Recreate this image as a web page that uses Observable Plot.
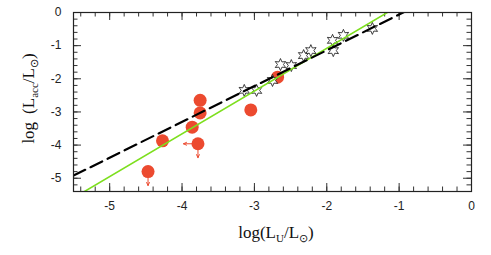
<!DOCTYPE html>
<html><head><meta charset="utf-8">
<script src="https://cdn.jsdelivr.net/npm/d3@7"></script>
<script src="https://cdn.jsdelivr.net/npm/@observablehq/plot@0.6"></script>
<style>body{margin:0;background:#fff}</style>
</head><body><div id="chart"></div>
<script>
// Red filled circles: log L_U, log L_acc, upper limit flags
const redX = [-4.47, -4.27, -3.86, -3.78, -3.75, -3.75, -3.05, -2.68];
const redY = [-4.80, -3.87, -3.46, -3.96, -2.65, -3.03, -2.94, -1.95];
const redDownLimit = [true, false, false, true, false, false, false, false];
const redLeftLimit = [false, false, false, true, false, false, false, false];

// Open stars
const starX = [-3.14, -2.97, -2.75, -2.64, -2.49, -2.32, -2.22, -1.92, -1.91, -1.77, -1.37];
const starY = [-2.35, -2.35, -2.05, -1.57, -1.60, -1.30, -1.15, -0.84, -1.15, -0.69, -0.48];

// Fits
const dashedFit = {slope: 1.08, intercept: 1.02, xFrom: -5.5, xTo: -0.9};
const greenFit = {slope: 1.29, intercept: 1.50, xFrom: -5.5, xTo: 0};

// Axes
const xDomain = [-5.5, 0];
const yDomain = [-5.4, 0];
const xTickLabels = [-5, -4, -3, -2, -1, 0];
const yTickLabels = [0, -1, -2, -3, -4, -5];
const minorStep = 0.2;

const W = 491, H = 255, mL = 73, mR = 20, mT = 12, mB = 64;
const fw = W - mL - mR, fh = H - mT - mB;

const red = "#ec4a2f", green = "#7ddf1e";

const red_ = redX.map((x, i) => ({x, y: redY[i], down: redDownLimit[i], left: redLeftLimit[i]}));
const stars = starX.map((x, i) => ({x, y: starY[i]}));
const downArrows = red_.filter(d => d.down).map(d => ({x1: d.x, y1: d.y, x2: d.x, y2: d.y - 0.42}));
const leftArrows = red_.filter(d => d.left).map(d => ({x1: d.x, y1: d.y, x2: d.x - 0.2, y2: d.y}));
const arrows = downArrows.concat(leftArrows);

const fitPts = f => [f.xFrom, f.xTo].map(x => ({x, y: f.slope * x + f.intercept}));

const xMinor = d3.range(Math.round(xDomain[0] / minorStep), Math.round(xDomain[1] / minorStep) + 1).map(k => +(k * minorStep).toFixed(2));
const yMinor = d3.range(Math.round(yDomain[0] / minorStep), Math.round(yDomain[1] / minorStep) + 1).map(k => +(k * minorStep).toFixed(2));

const star6 = {
  draw(ctx, size) {
    const R = Math.sqrt(size / Math.PI), r = R * 0.5, n = 6;
    for (let i = 0; i < 2 * n; i++) {
      const a = Math.PI * i / n - Math.PI / 2;
      const rr = i % 2 === 0 ? R : r;
      const px = rr * Math.cos(a), py = rr * Math.sin(a);
      if (i === 0) ctx.moveTo(px, py); else ctx.lineTo(px, py);
    }
    ctx.closePath();
  }
};

const tickStroke = "#333";
const majL = 8, minL = 4.5;

const chart = Plot.plot({
  width: W, height: H,
  marginLeft: mL, marginRight: mR, marginTop: mT, marginBottom: mB,
  x: {domain: xDomain, axis: null},
  y: {domain: yDomain, axis: null},
  style: {background: "#fff"},
  marks: [
    // minor ticks (inside, all four sides)
    Plot.tickX(xMinor, {x: d => d, insetTop: fh - minL, stroke: tickStroke, strokeWidth: 1}),
    Plot.tickX(xMinor, {x: d => d, insetBottom: fh - minL, stroke: tickStroke, strokeWidth: 1}),
    Plot.tickY(yMinor, {y: d => d, insetRight: fw - minL, stroke: tickStroke, strokeWidth: 1}),
    Plot.tickY(yMinor, {y: d => d, insetLeft: fw - minL, stroke: tickStroke, strokeWidth: 1}),
    // major ticks
    Plot.tickX(xTickLabels, {x: d => d, insetTop: fh - majL, stroke: tickStroke, strokeWidth: 1}),
    Plot.tickX(xTickLabels, {x: d => d, insetBottom: fh - majL, stroke: tickStroke, strokeWidth: 1}),
    Plot.tickY(yTickLabels, {y: d => d, insetRight: fw - majL, stroke: tickStroke, strokeWidth: 1}),
    Plot.tickY(yTickLabels, {y: d => d, insetLeft: fw - majL, stroke: tickStroke, strokeWidth: 1}),
    // tick labels
    Plot.axisX({ticks: xTickLabels, tickSize: 0, tickPadding: 10, tickFormat: d => String(d),
      fontSize: 12, fontFamily: "Liberation Sans, Arial, sans-serif", fill: "#222", label: null}),
    Plot.axisY({ticks: yTickLabels, tickSize: 0, tickPadding: 12, tickFormat: d => String(d),
      fontSize: 12, fontFamily: "Liberation Sans, Arial, sans-serif", fill: "#222", label: null}),
    // limit arrows
    Plot.arrow(arrows, {x1: "x1", y1: "y1", x2: "x2", y2: "y2", stroke: red, strokeWidth: 1, headLength: 5, headAngle: 50}),
    // data
    Plot.dot(red_, {x: "x", y: "y", r: 6.5, fill: red, stroke: "none"}),
    Plot.dot(stars, {x: "x", y: "y", r: 6, symbol: star6, fill: "#fff", stroke: "#111", strokeWidth: 0.8}),
    // fits
    Plot.line(fitPts(greenFit), {x: "x", y: "y", stroke: green, strokeWidth: 1.6, clip: true}),
    Plot.line(fitPts(dashedFit), {x: "x", y: "y", stroke: "#000", strokeWidth: 2.2, strokeDasharray: "13,6", clip: true}),
    Plot.frame({stroke: "#222", strokeWidth: 1.2})
  ]
});

const svg = d3.select(chart);
const serif = "Liberation Serif, Times New Roman, serif";
// x label
const xl = svg.append("text").attr("x", mL + fw / 2 + 4).attr("y", 238)
  .attr("text-anchor", "middle").attr("font-family", serif).attr("font-size", 17).attr("fill", "#111");
xl.append("tspan").text("log(L");
xl.append("tspan").attr("dy", 4).attr("font-size", 11).text("U");
xl.append("tspan").attr("dy", -4).text("/L");
xl.append("tspan").attr("dy", 4).attr("font-size", 11).text("⊙");
xl.append("tspan").attr("dy", -4).text(")");
// y label
const yl = svg.append("text").attr("transform", `translate(34,${mT + fh / 2 - 3}) rotate(-90)`)
  .attr("text-anchor", "middle").attr("font-family", serif).attr("font-size", 17).attr("fill", "#111");
yl.append("tspan").text("log");
yl.append("tspan").attr("dx", 8).text("(L");
yl.append("tspan").attr("dy", 4).attr("font-size", 11).text("acc");
yl.append("tspan").attr("dy", -4).text("/L");
yl.append("tspan").attr("dy", 4).attr("font-size", 11).text("⊙");
yl.append("tspan").attr("dy", -4).text(")");

document.getElementById("chart").appendChild(chart);
</script></body></html>
